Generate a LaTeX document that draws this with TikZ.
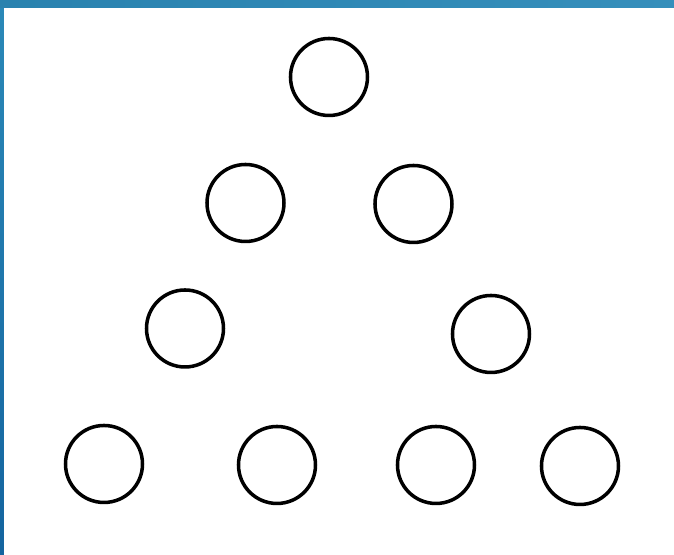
\documentclass[tikz,border=0pt]{standalone}
\definecolor{barblue}{HTML}{2B89B8}
\definecolor{bardark}{HTML}{14649F}
\tikzset{ball/.style={draw,circle,line width=1pt,minimum size=0.77cm,inner sep=0pt}}
\begin{document}
\begin{tikzpicture}
	\useasboundingbox (0,0) rectangle (6.74,5.55);
	% khung xanh
	\shade[top color=barblue,bottom color=bardark] (0,0) rectangle (0.04,5.55);
	\shade[left color=barblue!95!black,right color=barblue!95!white] (0,5.47) rectangle (6.74,5.55);
	% cac vong tron
	\node[ball] (t) at (3.29,4.78) {};
	\node[ball] (b1) at (2.455,3.52) {};
	\node[ball] (b2) at (4.135,3.51) {};
	\node[ball] (c1) at (1.85,2.265) {};
	\node[ball] (c2) at (4.91,2.21) {};
	\node[ball] (d1) at (1.04,0.91) {};
	\node[ball] (d2) at (2.77,0.90) {};
	\node[ball] (d3) at (4.36,0.90) {};
	\node[ball] (d4) at (5.80,0.89) {};
\end{tikzpicture}
\end{document}
